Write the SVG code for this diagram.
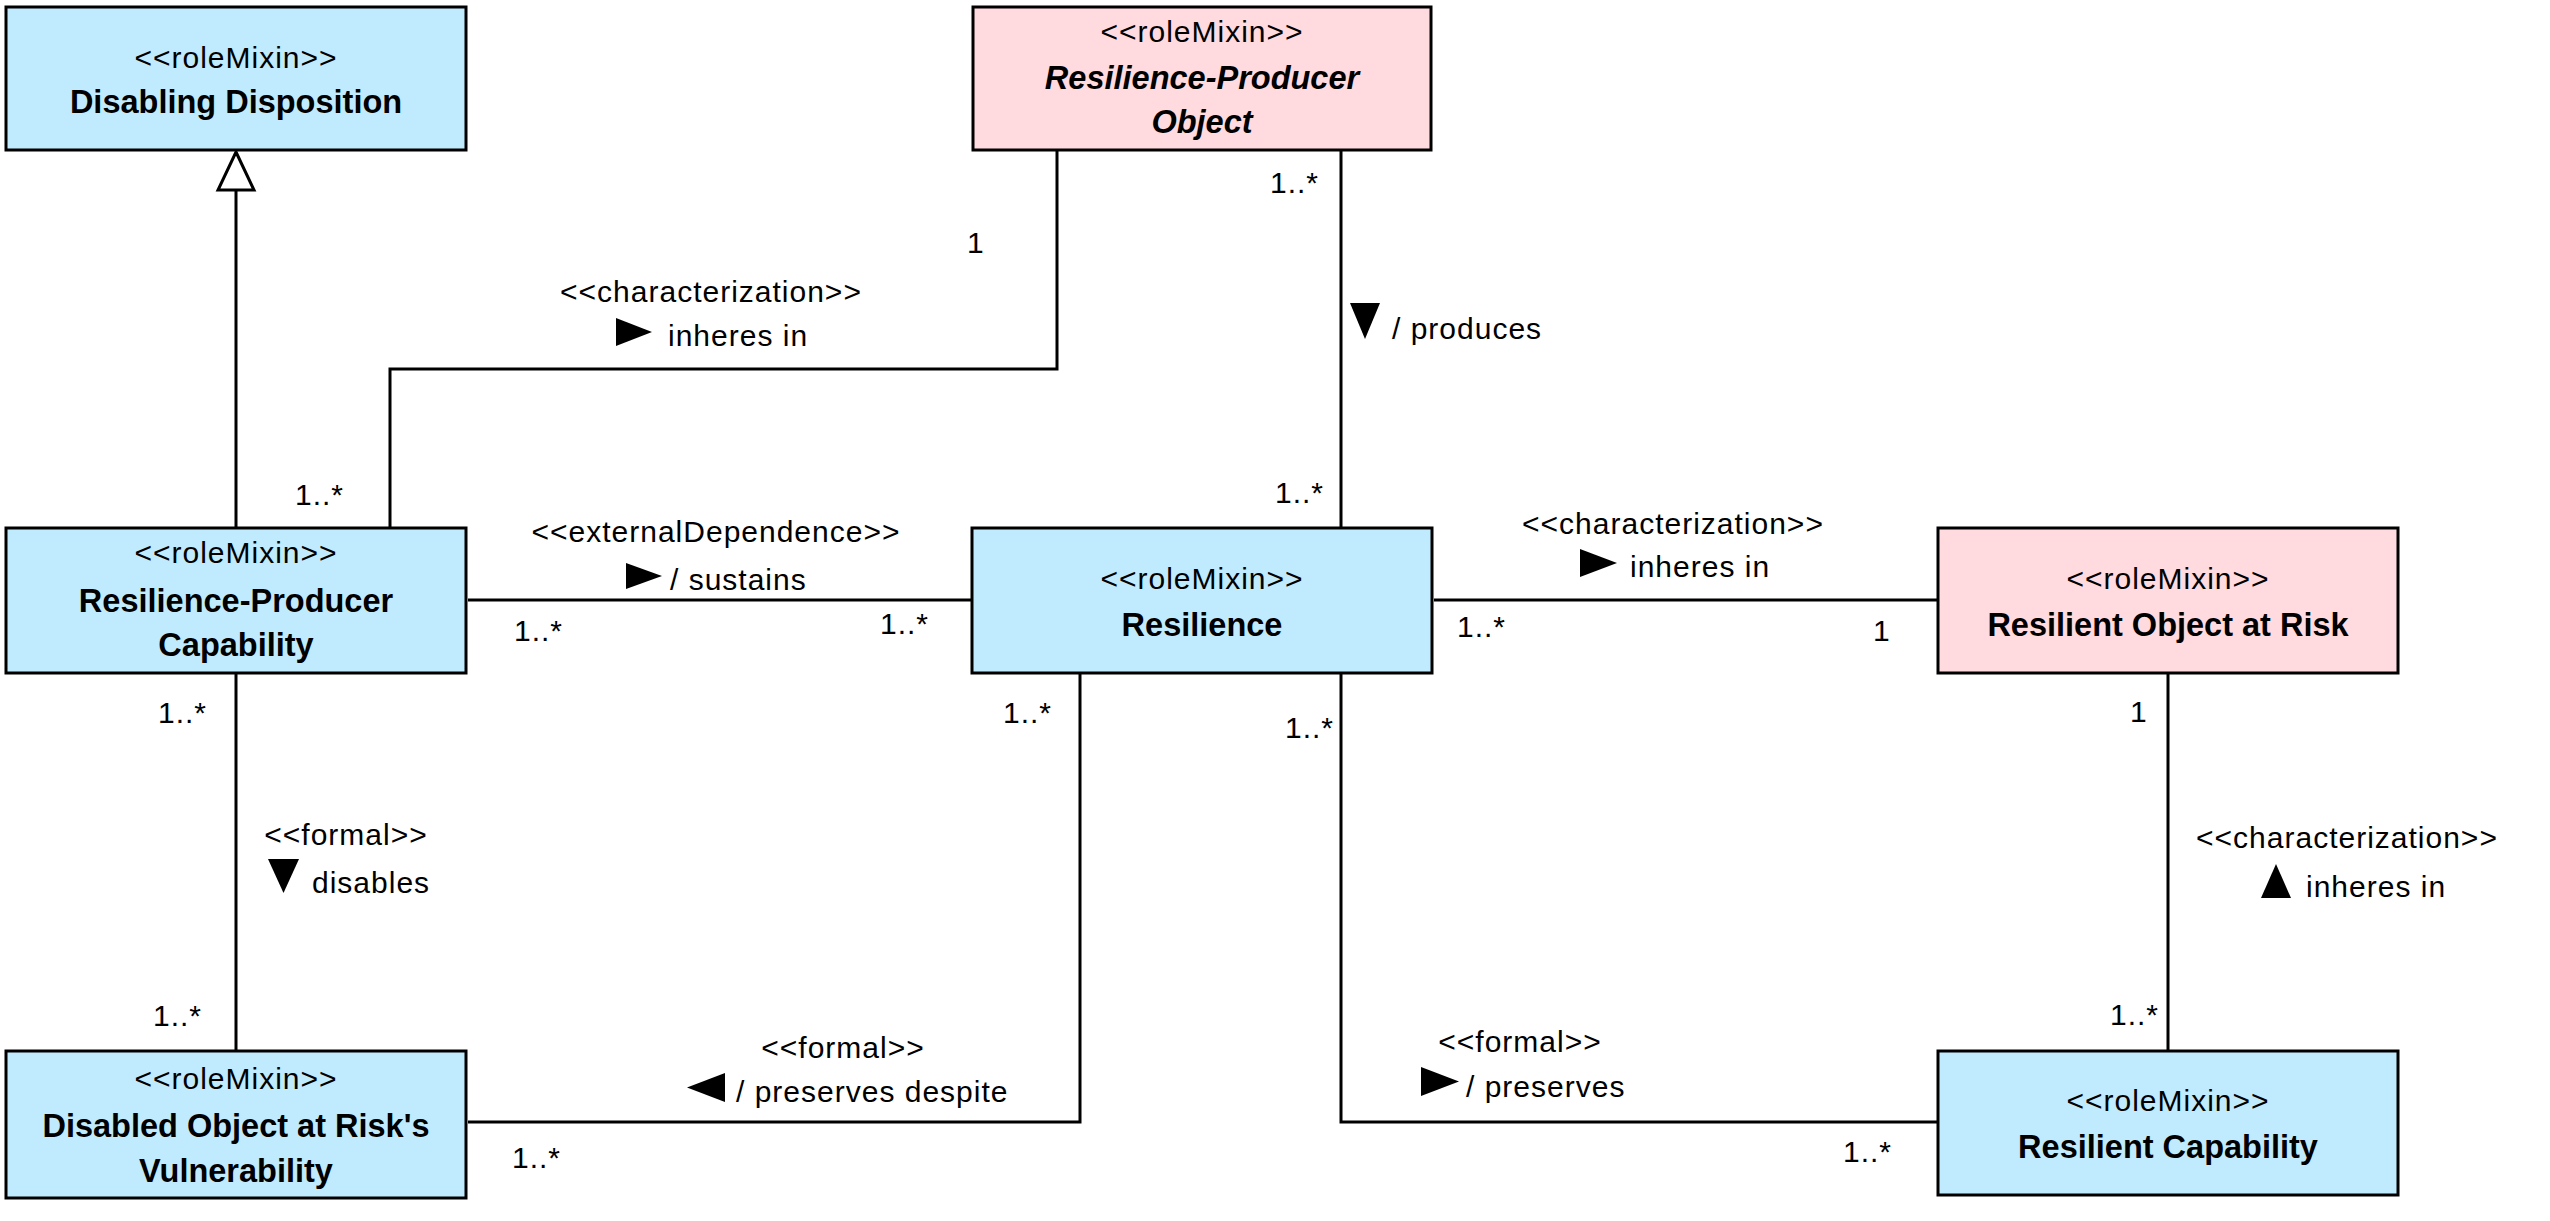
<svg xmlns="http://www.w3.org/2000/svg" width="2550" height="1221" viewBox="0 0 2550 1221">
<style>
.box{stroke:#000;stroke-width:3}
.blue{fill:#C0EBFE}
.pink{fill:#FFDADF}
.st{font-family:"Liberation Sans",Arial,sans-serif;font-size:30px;letter-spacing:1px;text-anchor:middle;fill:#000}
.nm{font-family:"Liberation Sans",Arial,sans-serif;font-size:32.5px;font-weight:bold;text-anchor:middle;fill:#000}
.it{font-style:italic}
.lb{font-family:"Liberation Sans",Arial,sans-serif;font-size:30px;letter-spacing:1px;fill:#000}
.c{text-anchor:middle}
.ln{fill:none;stroke:#000;stroke-width:3}
.tri{fill:#000}
</style>
<rect width="2550" height="1221" fill="#fff"/>
<g id="connectors">
  <g id="gen-rpc-dd">
    <line class="ln" x1="236" y1="528" x2="236" y2="190"/>
    <polygon points="236,152 254,190 218,190" fill="#fff" stroke="#000" stroke-width="3"/>
  </g>
  <g id="char-rpc-rpo">
    <polyline class="ln" points="390,528 390,369 1057,369 1057,150"/>
    <text class="lb" x="967" y="253">1</text>
    <text class="lb" x="295" y="505">1..*</text>
    <text class="lb c" x="711" y="302">&lt;&lt;characterization&gt;&gt;</text>
    <polygon class="tri" points="616,318 652,332 616,346"/>
    <text class="lb" x="668" y="346">inheres in</text>
  </g>
  <g id="ext-rpc-res">
    <line class="ln" x1="468" y1="600" x2="971" y2="600"/>
    <text class="lb" x="514" y="641">1..*</text>
    <text class="lb" x="880" y="634">1..*</text>
    <text class="lb c" x="716" y="542">&lt;&lt;externalDependence&gt;&gt;</text>
    <polygon class="tri" points="626,563 662,576 626,589"/>
    <text class="lb" x="670" y="590">/ sustains</text>
  </g>
  <g id="prod-rpo-res">
    <line class="ln" x1="1341" y1="150" x2="1341" y2="528"/>
    <text class="lb" x="1270" y="193">1..*</text>
    <text class="lb" x="1275" y="503">1..*</text>
    <polygon class="tri" points="1350,303 1380,303 1365,339"/>
    <text class="lb" x="1392" y="339">/ produces</text>
  </g>
  <g id="char-res-ror">
    <line class="ln" x1="1434" y1="600" x2="1937" y2="600"/>
    <text class="lb" x="1457" y="637">1..*</text>
    <text class="lb" x="1873" y="641">1</text>
    <text class="lb c" x="1673" y="534">&lt;&lt;characterization&gt;&gt;</text>
    <polygon class="tri" points="1580,549 1617,563 1580,577"/>
    <text class="lb" x="1630" y="577">inheres in</text>
  </g>
  <g id="char-rc-ror">
    <line class="ln" x1="2168" y1="673" x2="2168" y2="1051"/>
    <text class="lb" x="2130" y="722">1</text>
    <text class="lb" x="2110" y="1025">1..*</text>
    <text class="lb c" x="2347" y="848">&lt;&lt;characterization&gt;&gt;</text>
    <polygon class="tri" points="2276,864 2291,898 2261,898"/>
    <text class="lb" x="2306" y="897">inheres in</text>
  </g>
  <g id="formal-rpc-dorv">
    <line class="ln" x1="236" y1="673" x2="236" y2="1051"/>
    <text class="lb" x="158" y="723">1..*</text>
    <text class="lb" x="153" y="1026">1..*</text>
    <text class="lb c" x="346" y="845">&lt;&lt;formal&gt;&gt;</text>
    <polygon class="tri" points="268,859 299,859 283.5,893"/>
    <text class="lb" x="312" y="893">disables</text>
  </g>
  <g id="formal-res-dorv">
    <polyline class="ln" points="1080,673 1080,1122 468,1122"/>
    <text class="lb" x="1003" y="723">1..*</text>
    <text class="lb" x="512" y="1168">1..*</text>
    <text class="lb c" x="843" y="1058">&lt;&lt;formal&gt;&gt;</text>
    <polygon class="tri" points="725,1073 687,1087.5 725,1102"/>
    <text class="lb" x="736" y="1102">/ preserves despite</text>
  </g>
  <g id="formal-res-rc">
    <polyline class="ln" points="1341,673 1341,1122 1937,1122"/>
    <text class="lb" x="1285" y="738">1..*</text>
    <text class="lb" x="1843" y="1162">1..*</text>
    <text class="lb c" x="1520" y="1052">&lt;&lt;formal&gt;&gt;</text>
    <polygon class="tri" points="1421,1067 1459,1081.5 1421,1096"/>
    <text class="lb" x="1466" y="1097">/ preserves</text>
  </g>
</g>
<g id="node-disabling-disposition">
  <rect class="box blue" x="6" y="7" width="460" height="143"/>
  <text class="st" x="236" y="68">&lt;&lt;roleMixin&gt;&gt;</text>
  <text class="nm" x="236" y="113">Disabling Disposition</text>
</g>
<g id="node-resilience-producer-object">
  <rect class="box pink" x="973" y="7" width="458" height="143"/>
  <text class="st" x="1202" y="42">&lt;&lt;roleMixin&gt;&gt;</text>
  <text class="nm it" x="1202" y="89">Resilience-Producer</text>
  <text class="nm it" x="1202" y="133">Object</text>
</g>
<g id="node-resilience-producer-capability">
  <rect class="box blue" x="6" y="528" width="460" height="145"/>
  <text class="st" x="236" y="563">&lt;&lt;roleMixin&gt;&gt;</text>
  <text class="nm" x="236" y="612">Resilience-Producer</text>
  <text class="nm" x="236" y="656">Capability</text>
</g>
<g id="node-resilience">
  <rect class="box blue" x="972" y="528" width="460" height="145"/>
  <text class="st" x="1202" y="589">&lt;&lt;roleMixin&gt;&gt;</text>
  <text class="nm" x="1202" y="636">Resilience</text>
</g>
<g id="node-resilient-object-at-risk">
  <rect class="box pink" x="1938" y="528" width="460" height="145"/>
  <text class="st" x="2168" y="589">&lt;&lt;roleMixin&gt;&gt;</text>
  <text class="nm" x="2168" y="636">Resilient Object at Risk</text>
</g>
<g id="node-disabled-object-vulnerability">
  <rect class="box blue" x="6" y="1051" width="460" height="147"/>
  <text class="st" x="236" y="1089">&lt;&lt;roleMixin&gt;&gt;</text>
  <text class="nm" x="236" y="1137">Disabled Object at Risk's</text>
  <text class="nm" x="236" y="1182">Vulnerability</text>
</g>
<g id="node-resilient-capability">
  <rect class="box blue" x="1938" y="1051" width="460" height="144"/>
  <text class="st" x="2168" y="1111">&lt;&lt;roleMixin&gt;&gt;</text>
  <text class="nm" x="2168" y="1158">Resilient Capability</text>
</g>
</svg>
